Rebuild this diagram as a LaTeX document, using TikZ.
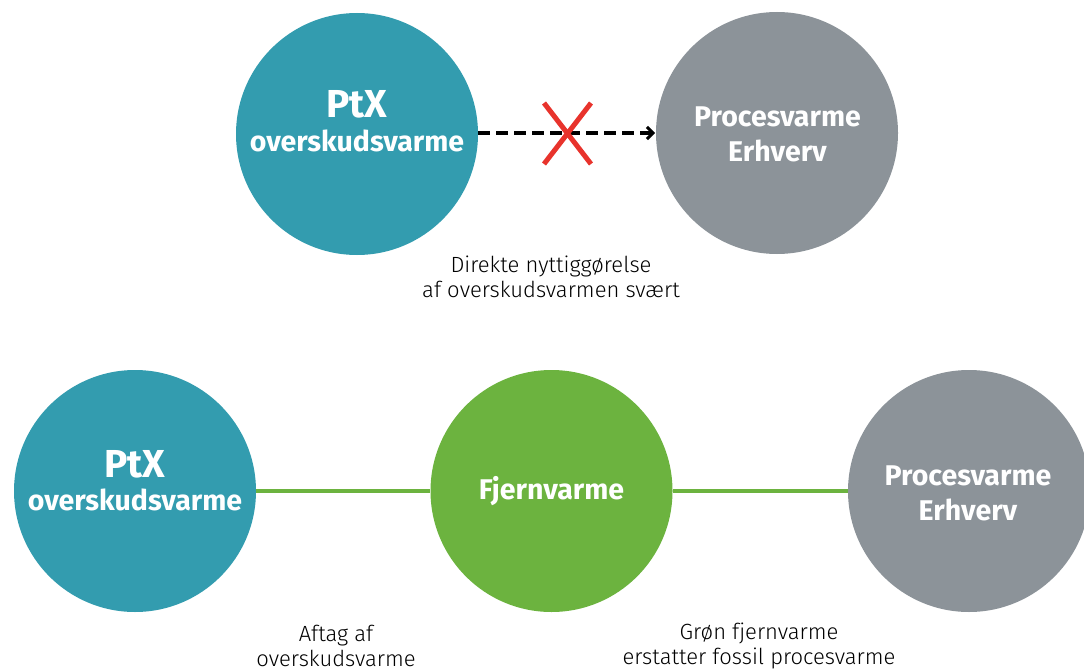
\documentclass[tikz,border=0pt]{standalone}
\usepackage{fontspec}
\setmainfont{Fira Sans}
\newfontfamily\lightfont{Fira Sans Light}
\usetikzlibrary{arrows.meta}
\definecolor{tealc}{HTML}{339CAF}
\definecolor{grayc}{HTML}{8C9399}
\definecolor{greenc}{HTML}{6CB33F}
\definecolor{redx}{HTML}{E8332C}
\tikzset{
  circ/.style={circle, minimum size=242pt, inner sep=0pt, draw=none},
  bigt/.style={text=white, font=\fontsize{39}{40}\selectfont\bfseries, anchor=base, inner sep=0pt},
  midt/.style={text=white, font=\fontsize{28.5}{30}\selectfont\bfseries, anchor=base, inner sep=0pt},
  note/.style={text=black, font=\lightfont\fontsize{22}{25}\selectfont, align=center, inner sep=0pt},
  dasharrow/.style={line width=4.2pt, dash pattern=on 12pt off 6pt, -{Straight Barb[length=6pt,width=12pt,line width=3pt]}},
  greenline/.style={greenc, line width=4pt},
  xline/.style={redx, line width=5pt}
}
\begin{document}
\begin{tikzpicture}[x=1pt,y=-1pt]
\useasboundingbox (0,0) rectangle (1084,671);
% top row
\node[circ, fill=tealc] (ptxA) at (357,134) {};
\node[circ, fill=grayc] (procA) at (777,133) {};
\node[bigt] (ptxAt1) at (357,118) {PtX};
\node[midt] (ptxAt2) at (357,152) {overskudsvarme};
\node[midt] (procAt1) at (777.5,127) {Procesvarme};
\node[midt] (procAt2) at (777.5,162) {Erhverv};
\coordinate (arrS) at (ptxA.east |- 0,133);
\coordinate (arrE) at (655,133);
\draw[dasharrow] (arrS) -- (arrE);
\coordinate (xc) at (567.5,133.5);
\draw[xline] ([shift={(-23.5,-30.5)}]xc) -- ([shift={(23.5,30.5)}]xc);
\draw[xline] ([shift={(23.5,-30.5)}]xc) -- ([shift={(-23.5,30.5)}]xc);
\node[note] (noteA) at (551,277) {Direkte nyttiggørelse\\af overskudsvarmen svært};
% bottom row
\node[circ, fill=tealc] (ptxB) at (135,491) {};
\node[circ, fill=greenc] (fjern) at (551.5,491) {};
\node[circ, fill=grayc] (procB) at (969,491) {};
\draw[greenline] (ptxB) -- (fjern);
\draw[greenline] (fjern) -- (procB);
\node[bigt] (ptxBt1) at (135,477) {PtX};
\node[midt] (ptxBt2) at (135,510) {overskudsvarme};
\node[midt] (fjernt) at (551.5,499) {Fjernvarme};
\node[midt] (procBt1) at (968,485) {Procesvarme};
\node[midt] (procBt2) at (968,520) {Erhverv};
\node[note] (noteB) at (336,646) {Aftag af\\overskudsvarme};
\node[note] (noteC) at (759,646) {Grøn fjernvarme\\erstatter fossil procesvarme};
\end{tikzpicture}
\end{document}
